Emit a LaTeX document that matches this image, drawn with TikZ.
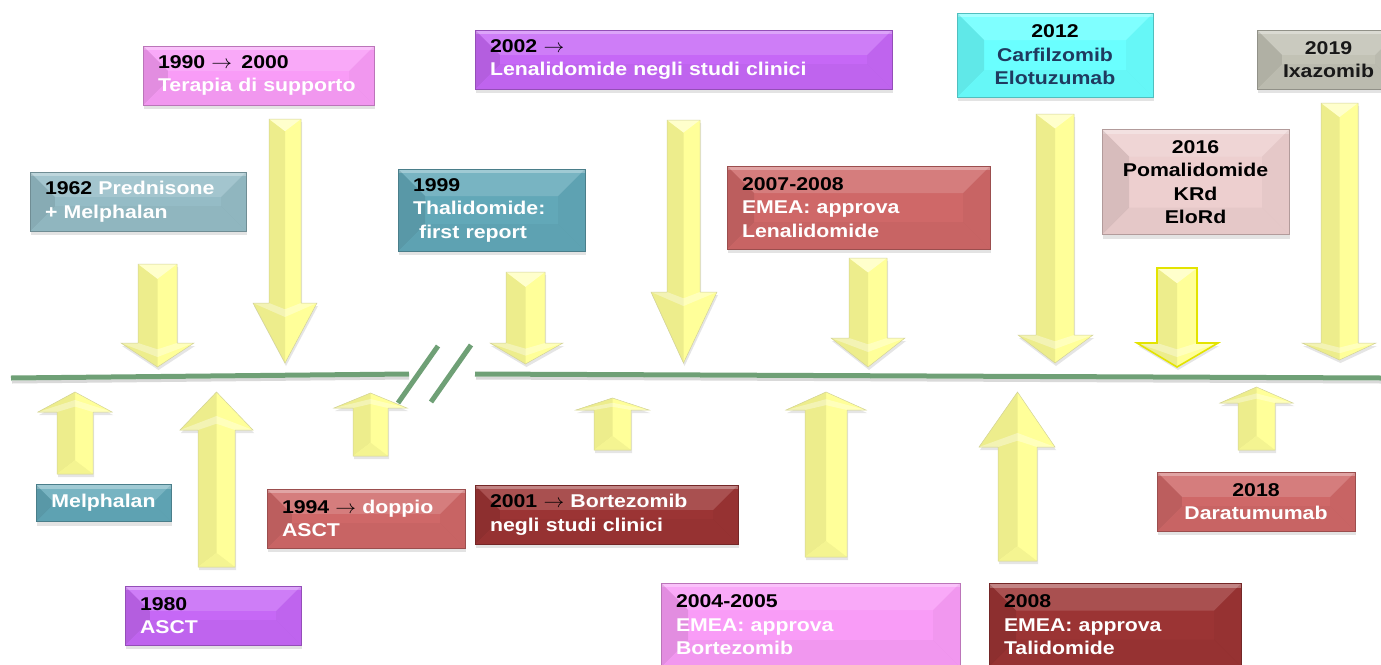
\documentclass[tikz,border=0pt]{standalone}
\usepackage{fontspec}
\usepackage{graphicx}
\setmainfont{Liberation Sans}[FakeStretch=1.15]
\usetikzlibrary{shadows,calc}
\definecolor{cpink}{HTML}{F99CF7}
\definecolor{cpurple}{HTML}{C668F6}
\definecolor{ctealg}{HTML}{95BCC6}
\definecolor{cteal}{HTML}{62A8B8}
\definecolor{cred}{HTML}{CF6868}
\definecolor{cdred}{HTML}{9B3434}
\definecolor{ccyan}{HTML}{6AFFFF}
\definecolor{clpink}{HTML}{EDCFCF}
\definecolor{cgray}{HTML}{C2C2B5}
\definecolor{cnavy}{HTML}{1F3A5F}
\definecolor{cgreen}{HTML}{6FA076}
\definecolor{cyel}{HTML}{FFFF99}
\definecolor{cyeld}{HTML}{EDED8C}
\definecolor{cyell}{HTML}{FFFFCC}
\definecolor{cyelo}{HTML}{D2D29A}
\definecolor{cyelb}{HTML}{E3E300}
\tikzset{
  bevel/.style={path picture={
    \path (path picture bounding box.south west) coordinate (bvA)
          (path picture bounding box.north east) coordinate (bvB);
    \fill[white,opacity=.14] let \p1=(bvA),\p2=(bvB),\n1={min(0.42*(\y2-\y1),27pt)} in
      (\x1,\y2)--(\x2,\y2)--({\x2-\n1*1pt},{\y2-\n1*1pt})--({\x1+\n1*1pt},{\y2-\n1*1pt})--cycle;
    \fill[white,opacity=.3] let \p1=(bvA),\p2=(bvB) in
      (\x1,\y2)--(\x2,\y2)--(\x2,{\y2-4pt})--(\x1,{\y2-4pt})--cycle;
    \fill[black,opacity=.09] let \p1=(bvA),\p2=(bvB),\n1={min(0.42*(\y2-\y1),27pt)} in
      (\x1,\y1)--(\x1,\y2)--({\x1+\n1*1pt},{\y2-\n1*1pt})--({\x1+\n1*1pt},{\y1+\n1*1pt})--cycle;
    \fill[black,opacity=.03] let \p1=(bvA),\p2=(bvB),\n1={min(0.42*(\y2-\y1),27pt)} in
      (\x2,\y1)--(\x2,\y2)--({\x2-\n1*1pt},{\y2-\n1*1pt})--({\x2-\n1*1pt},{\y1+\n1*1pt})--cycle;
    \fill[black,opacity=.03] let \p1=(bvA),\p2=(bvB),\n1={min(0.42*(\y2-\y1),27pt)} in
      (\x1,\y1)--(\x2,\y1)--({\x2-\n1*1pt},{\y1+\n1*1pt})--({\x1+\n1*1pt},{\y1+\n1*1pt})--cycle;
  }},
  bx/.style={fill=#1, draw=#1!75!black, line width=0.5pt, inner xsep=15pt, inner ysep=0pt,
    text=white, font=\bfseries\fontsize{18.5}{23.5}\selectfont,
    drop shadow={opacity=0.22, shadow xshift=1pt, shadow yshift=-4pt}, bevel},
  aline/.style={draw=cyelo, line width=0.5pt},
  alineb/.style={draw=cyelb, line width=1.6pt},
  ashadow/.style={drop shadow={opacity=.2, shadow xshift=1pt, shadow yshift=-3pt}},
  tline/.style={cgreen, line width=5pt},
  tshadow/.style={black!15, line width=3pt},
}
% down arrow: sl sr top hl hr wing tip
\newcommand\ydn[8][aline]{%
  \pgfmathsetmacro\am{(#2+#3)/2}%
  \pgfmathsetmacro\ab{#4+0.38*(#3-#2)}%
  \pgfmathsetmacro\hk{min(14,0.6*(#8-#7))}%
  \pgfmathsetmacro\hkk{\hk*0.45}%
  \fill[cyel,ashadow] (#2,#4)--(#3,#4)--(#3,#7)--(#6,#7)--(\am,#8)--(#5,#7)--(#2,#7)--cycle;
  \fill[cyeld] (#2,#4)--(\am,\ab)--(\am,#8)--(#5,#7)--(#2,#7)--cycle;
  \fill[cyell] (#2,#4)--(#3,#4)--(\am,\ab)--cycle;
  \fill[white,opacity=.35] (#5,#7)--(#2,#7)--(\am,#7+\hkk)--(#3,#7)--(#6,#7)--(\am,#7+\hk)--cycle;
  \draw[#1] (#2,#4)--(#3,#4)--(#3,#7)--(#6,#7)--(\am,#8)--(#5,#7)--(#2,#7)--cycle;
}
% up arrow: sl sr bottom hl hr wing tip
\newcommand\yup[8][aline]{%
  \pgfmathsetmacro\am{(#2+#3)/2}%
  \pgfmathsetmacro\ab{#4-0.38*(#3-#2)}%
  \pgfmathsetmacro\hk{min(14,0.6*(#7-#8))}%
  \pgfmathsetmacro\hkk{\hk*0.45}%
  \fill[cyel,ashadow] (#2,#4)--(#3,#4)--(#3,#7)--(#6,#7)--(\am,#8)--(#5,#7)--(#2,#7)--cycle;
  \fill[cyeld] (#2,#4)--(\am,\ab)--(\am,#8)--(#5,#7)--(#2,#7)--cycle;
  \fill[cyeld!60!cyel] (#2,#4)--(#3,#4)--(\am,\ab)--cycle;
  \fill[white,opacity=.35] (#5,#7)--(#2,#7)--(\am,#7-\hkk)--(#3,#7)--(#6,#7)--(\am,#7-\hk)--cycle;
  \draw[#1] (#2,#4)--(#3,#4)--(#3,#7)--(#6,#7)--(\am,#8)--(#5,#7)--(#2,#7)--cycle;
}
\newcommand\blk[1]{\textcolor{black}{#1}}
\newcommand\rarr{\scalebox{1.2}[1.1]{$\rightarrow$}}
\begin{document}
\begin{tikzpicture}[x=1pt,y=-1pt]
\useasboundingbox (0,0) rectangle (1381,664);
\clip (0,0) rectangle (1381,664);
\fill[white] (0,0) rectangle (1381,664);

% timeline
\draw[tshadow] (12,382) -- (409,378);
\draw[tshadow] (476,378) -- (1381,382);
\draw[tline] (11,378) -- (409,374);
\draw[tline] (475,374) -- (1381,378);
\draw[tline] (398,403) -- (438,346);
\draw[tline] (431,402) -- (471,345);

% top boxes
\node[bx=cpink, minimum height=59pt, text width=201pt, align=left] (n1990) at (258.5,75.5)
  {\blk{1990 \rarr\enspace 2000}\\Terapia di supporto};
\node[bx=ctealg, minimum height=59pt, text width=186pt, align=left] (n1962) at (138,201.5)
  {\blk{1962} Prednisone\\+ Melphalan};
\node[bx=cteal, minimum height=82pt, text width=157pt, align=left] (n1999) at (491.5,210)
  {\blk{1999}\\Thalidomide:\\\ first report};
\node[bx=cpurple, minimum height=59pt, text width=387pt, align=left] (n2002) at (683.5,59.5)
  {\blk{2002 \rarr}\\Lenalidomide negli studi clinici};
\node[bx=cred, minimum height=83pt, text width=233pt, align=left] (n2007) at (858.5,207.5)
  {\blk{2007-2008}\\EMEA: approva\\Lenalidomide};
\node[bx=ccyan, minimum height=84pt, text width=166pt, align=center, text=cnavy] (n2012) at (1055,55)
  {\blk{2012}\\Carfilzomib\\Elotuzumab};
\node[bx=clpink, minimum height=105pt, text width=157pt, align=center, text=black] (n2016) at (1195.5,182)
  {2016\\Pomalidomide\\KRd\\EloRd};
\node[bx=cgray, minimum height=59pt, text width=113pt, align=center, text=black!90] (n2019) at (1328.5,59.5)
  {2019\\Ixazomib};

% bottom boxes
\node[bx=cteal, minimum height=37pt, text width=105pt, align=center] (nMel) at (103.5,503)
  {Melphalan};
\node[bx=cred, minimum height=59pt, text width=168pt, align=left] (n1994) at (366,518.5)
  {\blk{1994 \rarr} doppio\\ASCT};
\node[bx=cpurple, minimum height=59pt, text width=146pt, align=left] (n1980) at (213,615.5)
  {\blk{1980}\\ASCT};
\node[bx=cdred, minimum height=59pt, text width=233pt, align=left] (n2001) at (606.5,514.5)
  {\blk{2001 \rarr} Bortezomib\\negli studi clinici};
\node[bx=cpink, minimum height=84pt, text width=269pt, align=left] (n2004) at (810.5,625)
  {\blk{2004-2005}\\EMEA: approva\\Bortezomib};
\node[bx=cdred, minimum height=83pt, text width=222pt, align=left] (n2008) at (1115,625)
  {\blk{2008}\\EMEA: approva\\Talidomide};
\node[bx=cred, minimum height=59pt, text width=168pt, align=center] (n2018) at (1256,501.5)
  {\blk{2018}\\Daratumumab};

% down arrows
\ydn{138}{177}{264}{121}{194}{343}{367}
\ydn{269}{301}{119}{253}{317}{303}{363}
\ydn{506}{545}{272}{490}{563}{343}{364}
\ydn{667}{700}{120}{651}{717}{292}{363}
\ydn{849}{887}{258}{831}{905}{338}{367}
\ydn{1036}{1074}{114}{1018}{1093}{335}{363}
\ydn[alineb]{1157}{1197}{268}{1137}{1218}{343}{367}
\ydn{1321}{1358}{103}{1302}{1376}{343}{360}

% up arrows
\yup{57}{93}{474}{38}{112}{412}{392}
\yup{198}{235}{567}{180}{253}{430}{392}
\yup{353}{388}{456}{334}{407}{408}{393}
\yup{594}{631}{450}{576}{649}{410}{398}
\yup{805}{847}{557}{786}{866}{410}{392}
\yup{998}{1037}{561}{979}{1055}{447}{392}
\yup{1238}{1275}{450}{1220}{1293}{403}{387}
\end{tikzpicture}
\end{document}
